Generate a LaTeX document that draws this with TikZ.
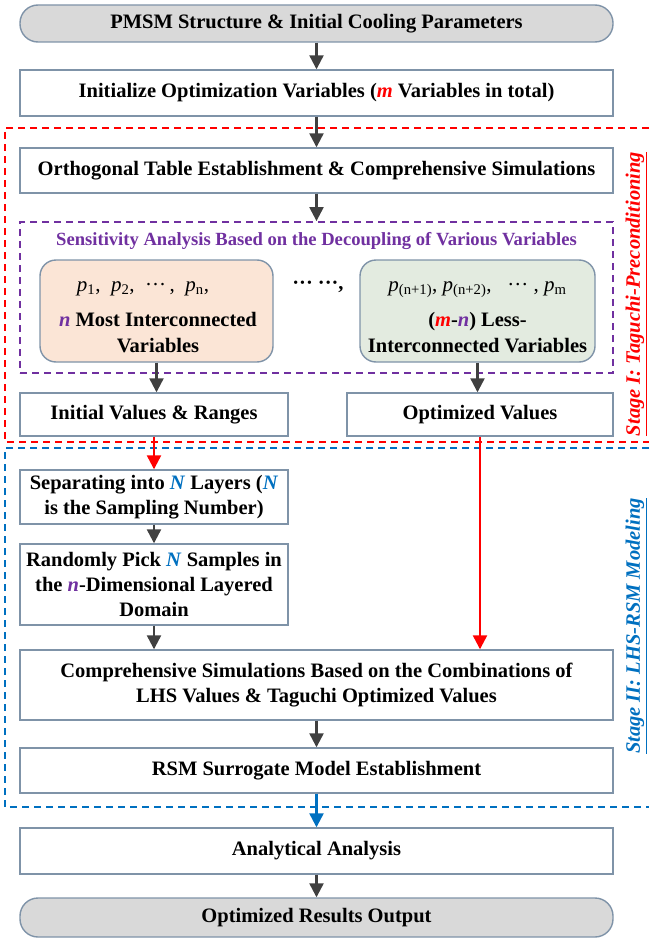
\documentclass[tikz,border=0pt]{standalone}
\usepackage{fontspec}
\setmainfont{Liberation Serif}
\usetikzlibrary{arrows.meta}
\definecolor{edgecol}{HTML}{7F93A8}
\definecolor{arrcol}{HTML}{404040}
\definecolor{termfill}{HTML}{D9D9D9}
\definecolor{peach}{HTML}{FBE5D6}
\definecolor{sage}{HTML}{E3EBE0}
\definecolor{vio}{HTML}{7030A0}
\definecolor{stagered}{HTML}{FF0000}
\definecolor{stageblue}{HTML}{0070C0}
\newcommand{\vm}{\textcolor{stagered}{\textit{m}}}
\newcommand{\vn}{\textcolor{vio}{\textit{n}}}
\newcommand{\vN}{\textcolor{stageblue}{\textit{N}}}
\newcommand{\cdotsx}{\mbox{\textperiodcentered\textperiodcentered\textperiodcentered}}
\newcommand{\pv}[1]{\textit{p}\textsubscript{#1}}
\tikzset{
  box/.style={draw=edgecol, line width=1.4pt, fill=white, inner sep=0pt,
    align=center, font=\fontsize{20.5}{25}\selectfont\bfseries},
  term/.style={box, fill=termfill, rounded corners=18pt},
  varbox/.style={box, rounded corners=16pt},
  boxtext/.style={inner sep=0pt, align=center, font=\fontsize{20.5}{26}\selectfont\bfseries},
  arr/.style={draw=arrcol, line width=2.3pt,
    -{Triangle[width=14pt,length=14pt]}},
  redarr/.style={arr, draw=stagered},
  bluearr/.style={arr, draw=stageblue},
  stagebox/.style={line width=1.8pt, dash pattern=on 7pt off 5pt},
  stagelabel/.style={rotate=90, inner sep=0pt,
    font=\fontsize{20.5}{24}\selectfont\bfseries\itshape}
}
\begin{document}
\begin{tikzpicture}[x=1pt, y=-1pt]
\useasboundingbox (0,0) rectangle (649,939);

% stage regions (open towards the right edge)
\draw[stagebox, draw=stagered] (649,128) coordinate (r1) -- (5,128) -- (5,442) -- (649,442) coordinate (r2);
\draw[stagebox, draw=stageblue] (649,448) coordinate (b1) -- (5,448) -- (5,807) -- (649,807) coordinate (b2);

% main flow
\node[term, minimum width=593pt, minimum height=37pt] (start) at (316.5,23.5)
  {PMSM Structure \& Initial Cooling Parameters};
\node[box, minimum width=593pt, minimum height=46pt] (init) at (316.5,93)
  {Initialize Optimization Variables (\vm{} Variables in total)};
\node[box, minimum width=593pt, minimum height=45pt] (ortho) at (316.5,170.5)
  {Orthogonal Table Establishment \& Comprehensive Simulations};

% sensitivity analysis group
\node[draw=vio, line width=1.8pt, dash pattern=on 7pt off 5pt,
  minimum width=593pt, minimum height=151pt, inner sep=0pt] (sens) at (316.5,297.5) {};
\node[text=vio, font=\fontsize{18.6}{22}\selectfont\bfseries, inner sep=0pt] (senstitle) at (316.5,241)
  {Sensitivity Analysis Based on the Decoupling of Various Variables};

\node[varbox, fill=peach, minimum width=233pt, minimum height=102pt] (most) at (156.5,311) {};
\node[boxtext] (mosttext) at (158,317)
  {{\mdseries\fontsize{21}{26}\selectfont\pv{1},\enspace\pv{2},\enspace\cdotsx{}\,,\enspace\pv{n},\hspace*{30pt}}\\[9pt]
   \vn{} Most Interconnected\\ Variables};
\node[varbox, fill=sage, minimum width=235pt, minimum height=102pt] (less) at (477.5,311) {};
\node[boxtext] (lesstext) at (477.5,317)
  {{\mdseries\fontsize{21}{26}\selectfont\pv{(n+1)}, \pv{(n+2)}, \enspace\cdotsx{} , \pv{m}}\\[9pt]
   (\vm-\vn) Less-\\ Interconnected Variables};
\node[inner sep=0pt, font=\fontsize{20.5}{24}\selectfont\bfseries] (gap) at (318,287) {\cdotsx{} \cdotsx,};

\node[box, minimum width=268pt, minimum height=43pt] (initval) at (154,414.5)
  {Initial Values \& Ranges};
\node[box, minimum width=266pt, minimum height=43pt] (optval) at (480,414.5)
  {Optimized Values};

% stage II
\node[box, minimum width=268pt, minimum height=54pt] (sep) at (154,497)
  {Separating into \vN{} Layers (\vN\\ is the Sampling Number)};
\node[box, minimum width=268pt, minimum height=81pt] (rand) at (154,584.5)
  {Randomly Pick \vN{} Samples in\\ the \vn-Dimensional Layered\\ Domain};
\node[box, minimum width=593pt, minimum height=70pt] (comp) at (316.5,685)
  {Comprehensive Simulations Based on the Combinations of\\ LHS Values \& Taguchi Optimized Values};
\node[box, minimum width=593pt, minimum height=45pt] (rsm) at (316.5,770.5)
  {RSM Surrogate Model Establishment};

\node[box, minimum width=593pt, minimum height=46pt] (anal) at (316.5,851)
  {Analytical Analysis};
\node[term, minimum width=593pt, minimum height=39pt] (stop) at (316.5,917.5)
  {Optimized Results Output};

% stage labels
\node[stagelabel, text=stagered] (lab1) at (636,294) {\underline{Stage I: Taguchi-Preconditioning}};
\node[stagelabel, text=stageblue] (lab2) at (636,626) {\underline{Stage II: LHS-RSM Modeling}};

% connectors
\draw[arr] (start) -- (init);
\draw[arr] (init) -- (ortho);
\draw[arr] (ortho) -- (sens.north);
\draw[arr] (most.south) -- (most.south |- initval.north);
\draw[arr] (less.south) -- (less.south |- optval.north);
\draw[redarr] (initval) -- (sep);
\draw[redarr] (optval.south) -- (optval.south |- comp.north);
\draw[arr] (sep) -- (rand);
\draw[arr] (rand.south) -- (rand.south |- comp.north);
\draw[arr] (comp) -- (rsm);
\draw[bluearr] (rsm) -- (anal);
\draw[arr] (anal) -- (stop);
\end{tikzpicture}
\end{document}
